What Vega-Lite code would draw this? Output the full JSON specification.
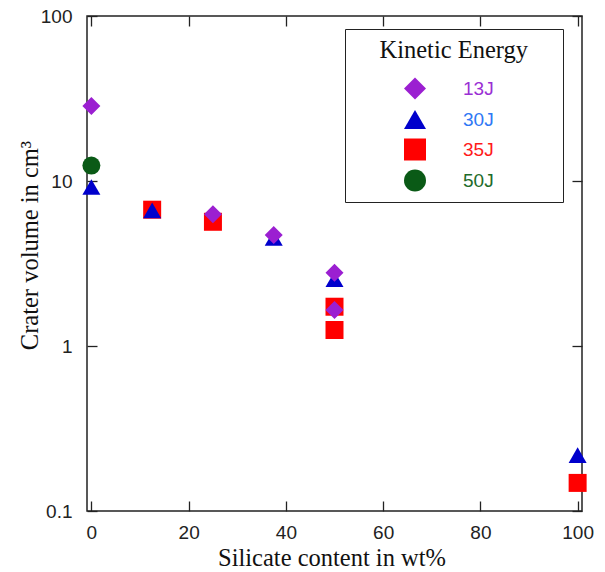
{
  "$schema": "https://vega.github.io/schema/vega-lite/v6.json",
  "width": 495,
  "height": 495,
  "autosize": {"type": "none"},
  "padding": {"left": 87, "top": 16, "right": 23, "bottom": 61},
  "background": "white",
  "config": {
    "view": {"stroke": "#222", "strokeWidth": 1.5},
    "axis": {
      "domain": false,
      "grid": false,
      "tickSize": -10,
      "tickColor": "#222",
      "tickWidth": 1.3,
      "labelFont": "Liberation Sans",
      "labelFontSize": 19,
      "labelColor": "#222",
      "titleFont": "Liberation Serif",
      "titleFontSize": 24.5,
      "titleFontWeight": "normal",
      "titleColor": "#111"
    }
  },
  "data": {
    "values": [
      {"silicate": 12.5, "volume": 6.7, "energy": "35J"},
      {"silicate": 25, "volume": 5.66, "energy": "35J"},
      {"silicate": 50, "volume": 1.73, "energy": "35J"},
      {"silicate": 50, "volume": 1.25, "energy": "35J"},
      {"silicate": 100, "volume": 0.148, "energy": "35J"},
      {"silicate": 0, "volume": 9.2, "energy": "30J"},
      {"silicate": 12.5, "volume": 6.64, "energy": "30J"},
      {"silicate": 37.5, "volume": 4.51, "energy": "30J"},
      {"silicate": 50, "volume": 2.54, "energy": "30J"},
      {"silicate": 100, "volume": 0.218, "energy": "30J"},
      {"silicate": 0, "volume": 12.4, "energy": "50J"},
      {"silicate": 0, "volume": 28.5, "energy": "13J"},
      {"silicate": 25, "volume": 6.28, "energy": "13J"},
      {"silicate": 37.5, "volume": 4.71, "energy": "13J"},
      {"silicate": 50, "volume": 2.78, "energy": "13J"},
      {"silicate": 50, "volume": 1.65, "energy": "13J"}
    ]
  },
  "layer": [
    {
      "mark": {"type": "point", "filled": true, "opacity": 1, "size": 324, "strokeWidth": 0},
      "encoding": {
        "x": {
          "field": "silicate",
          "type": "quantitative",
          "scale": {"domain": [-0.9, 100.9], "nice": false, "zero": false},
          "axis": {
            "orient": "bottom",
            "values": [0, 20, 40, 60, 80, 100],
            "labelPadding": 22,
            "title": "Silicate content in wt%",
            "titleX": 244.5,
            "titleY": 54,
            "titleAlign": "center",
            "titleBaseline": "alphabetic"
          }
        },
        "y": {
          "field": "volume",
          "type": "quantitative",
          "scale": {"type": "log", "domain": [0.1, 100], "nice": false},
          "axis": {
            "orient": "left",
            "values": [0.1, 1, 10, 100],
            "format": "~g",
            "labelPadding": 25,
            "title": "Crater volume in cm³",
            "titleX": -50,
            "titleY": 229,
            "titleAngle": -90,
            "titleAlign": "center",
            "titleBaseline": "alphabetic"
          }
        },
        "color": {
          "field": "energy",
          "type": "nominal",
          "scale": {"domain": ["13J", "30J", "35J", "50J"], "range": ["#9b1fd1", "#0000cc", "#ff0000", "#0a5a16"]},
          "legend": {
            "title": "\u200b\u2002\u2002Kinetic Energy\u2002\u2002\u200b",
            "orient": "none",
            "legendX": 258,
            "legendY": 13,
            "padding": 10,
            "strokeColor": "#222",
            "fillColor": "white",
            "titleFont": "Liberation Serif",
            "titleFontSize": 24.5,
            "titleFontWeight": "normal",
            "titleColor": "#111",
            "titleLimit": 400,
            "titlePadding": 14,
            "labelFont": "Liberation Sans",
            "labelFontSize": 19,
            "labelOffset": 37,
            "symbolOffset": 49,
            "symbolSize": 484,
            "symbolStrokeWidth": 0,
            "symbolOpacity": 1,
            "rowPadding": 9,
            "encode": {
              "labels": {"update": {"fill": {"signal": "datum.value === '13J' ? '#9a2fd4' : datum.value === '30J' ? '#2f78f5' : datum.value === '35J' ? '#ff1a1a' : '#1e6b2a'"}}},
              "symbols": {"update": {"fill": {"signal": "datum.value === '13J' ? '#9b1fd1' : datum.value === '30J' ? '#2a6cff' : datum.value === '35J' ? '#ff0000' : '#0a5a16'"}, "size": {"value": 484}}}
            }
          }
        },
        "shape": {
          "field": "energy",
          "type": "nominal",
          "scale": {"domain": ["13J", "30J", "35J", "50J"], "range": ["diamond", "triangle-up", "square", "circle"]},
          "legend": {
            "title": "\u200b\u2002\u2002Kinetic Energy\u2002\u2002\u200b",
            "orient": "none",
            "legendX": 258,
            "legendY": 13
          }
        }
      }
    },
    {
      "mark": {"type": "point", "opacity": 0},
      "encoding": {
        "x": {
          "field": "silicate",
          "type": "quantitative",
          "axis": {"orient": "top", "values": [0, 20, 40, 60, 80, 100], "labels": false, "title": null}
        },
        "y": {
          "field": "volume",
          "type": "quantitative",
          "axis": {"orient": "right", "values": [0.1, 1, 10, 100], "labels": false, "title": null}
        }
      }
    }
  ],
  "resolve": {"axis": {"x": "independent", "y": "independent"}}
}
